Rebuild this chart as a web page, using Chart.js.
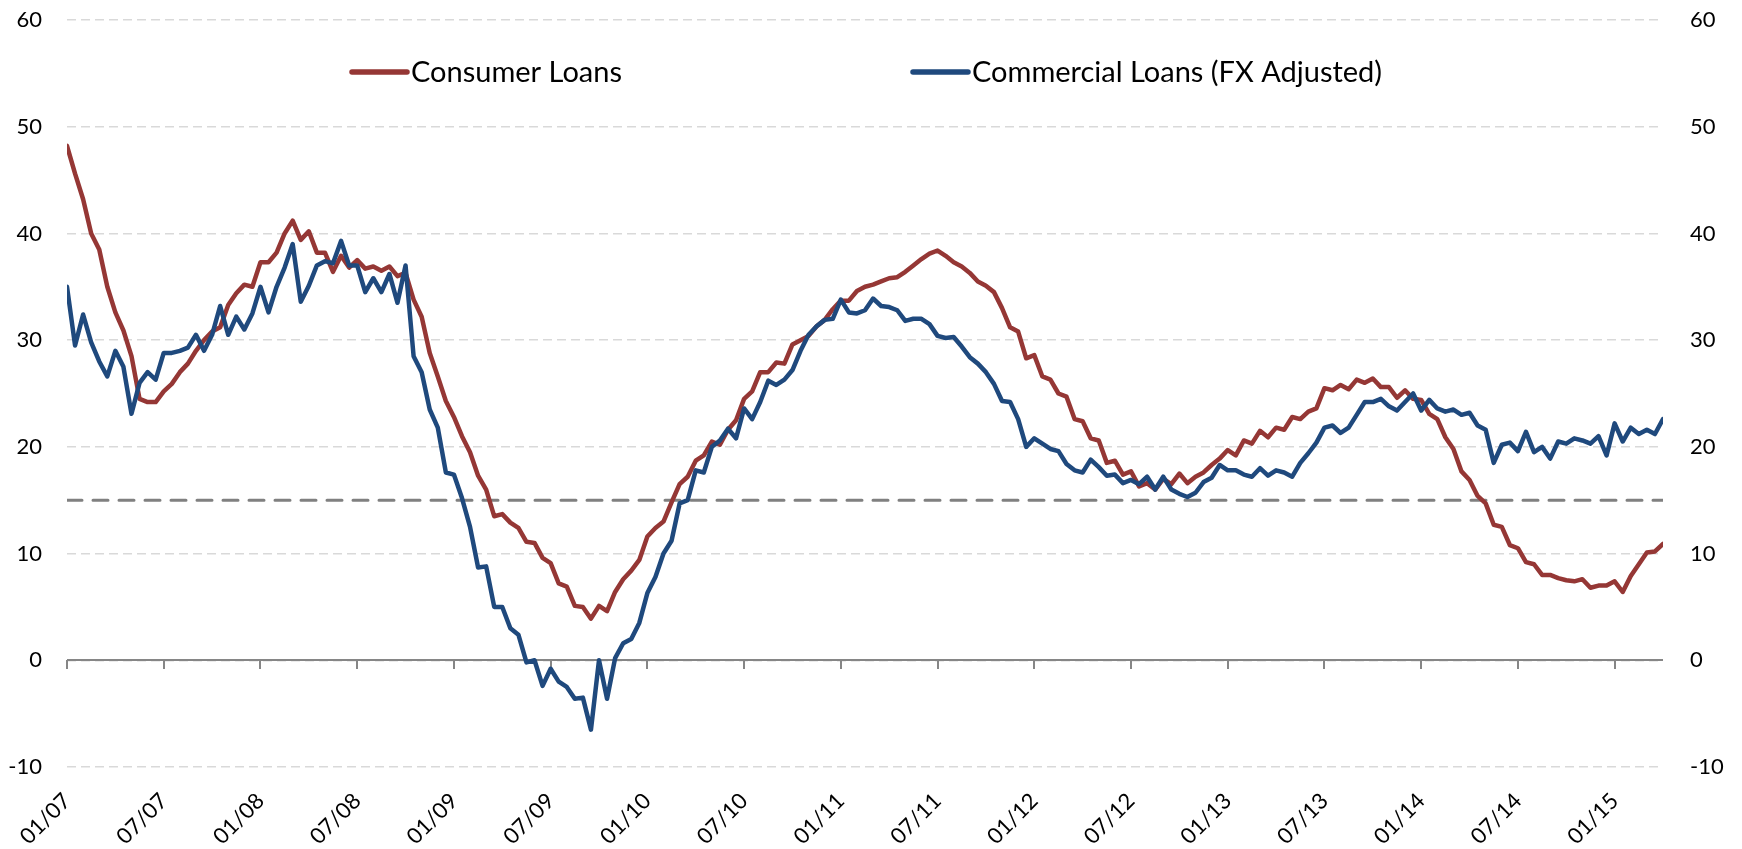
<!DOCTYPE html>
<html>
<head>
<meta charset="utf-8">
<title>Consumer vs Commercial Loans</title>
<script src="https://cdn.jsdelivr.net/npm/chart.js@4.4.1/dist/chart.umd.min.js"></script>
<style>
  html, body { margin: 0; padding: 0; background: #fff; }
  canvas { display: block; }
</style>
</head>
<body>
<canvas id="loansChart" width="1742" height="849"></canvas>
<script>
// one value every half month, first value is 01/07
const STEP = 0.5;
const tickLabels = ['01/07', '07/07', '01/08', '07/08', '01/09', '07/09', '01/10', '07/10', '01/11',
  '07/11', '01/12', '07/12', '01/13', '07/13', '01/14', '07/14', '01/15'];
const TICK_EVERY = 6; // months between labels

const consumerLoans = [
  48.2, 45.6, 43.2, 40.0, 38.5, 35.0, 32.6, 30.9, 28.5, 24.5,
  24.2, 24.2, 25.2, 25.9, 27.0, 27.8, 29.0, 30.0, 30.8, 31.2,
  33.3, 34.4, 35.2, 35.0, 37.3, 37.3, 38.2, 40.0, 41.2, 39.4,
  40.2, 38.2, 38.2, 36.4, 37.9, 36.8, 37.5, 36.7, 36.9, 36.5,
  36.9, 36.0, 36.3, 33.8, 32.2, 28.8, 26.6, 24.3, 22.8, 21.0,
  19.5, 17.3, 16.0, 13.5, 13.7, 12.9, 12.4, 11.1, 11.0, 9.6,
  9.1, 7.2, 6.9, 5.1, 5.0, 3.9, 5.1, 4.6, 6.4, 7.6,
  8.4, 9.4, 11.6, 12.4, 13.0, 14.8, 16.5, 17.2, 18.7, 19.2,
  20.5, 20.2, 21.6, 22.5, 24.5, 25.2, 27.0, 27.0, 27.9, 27.8,
  29.6, 30.0, 30.4, 31.3, 31.9, 32.9, 33.7, 33.7, 34.6, 35.0,
  35.2, 35.5, 35.8, 35.9, 36.4, 37.0, 37.6, 38.1, 38.4, 37.9,
  37.3, 36.9, 36.3, 35.5, 35.1, 34.5, 33.0, 31.2, 30.8, 28.3,
  28.6, 26.6, 26.3, 25.0, 24.7, 22.6, 22.4, 20.8, 20.6, 18.5,
  18.7, 17.4, 17.7, 16.3, 16.6, 16.0, 17.0, 16.5, 17.5, 16.6,
  17.2, 17.6, 18.3, 18.9, 19.7, 19.2, 20.6, 20.3, 21.5, 20.9,
  21.8, 21.6, 22.8, 22.6, 23.3, 23.6, 25.5, 25.3, 25.8, 25.4,
  26.3, 26.0, 26.4, 25.6, 25.6, 24.6, 25.3, 24.5, 24.4, 23.1,
  22.6, 20.9, 19.8, 17.7, 16.9, 15.4, 14.7, 12.7, 12.5, 10.8,
  10.5, 9.2, 9.0, 8.0, 8.0, 7.7, 7.5, 7.4, 7.6, 6.8,
  7.0, 7.0, 7.4, 6.4, 7.9, 9.0, 10.1, 10.2, 10.9
];

const commercialLoans = [
  35.0, 29.5, 32.4, 29.8, 28.0, 26.6, 29.0, 27.5, 23.1, 26.0,
  27.0, 26.3, 28.8, 28.8, 29.0, 29.3, 30.5, 29.0, 30.5, 33.2,
  30.5, 32.2, 31.0, 32.5, 35.0, 32.6, 35.0, 36.8, 39.0, 33.6,
  35.1, 37.0, 37.4, 37.2, 39.3, 37.0, 37.0, 34.5, 35.8, 34.5,
  36.2, 33.5, 37.0, 28.5, 27.0, 23.5, 21.8, 17.6, 17.4, 15.2,
  12.5, 8.7, 8.8, 5.0, 5.0, 3.0, 2.4, -0.2, 0.0, -2.4,
  -0.8, -2.0, -2.5, -3.6, -3.5, -6.5, 0.0, -3.6, 0.2, 1.6,
  2.0, 3.5, 6.3, 7.8, 10.0, 11.2, 14.7, 15.0, 17.8, 17.6,
  20.0, 20.6, 21.7, 20.8, 23.6, 22.6, 24.2, 26.2, 25.8, 26.3,
  27.2, 29.0, 30.5, 31.3, 31.9, 32.0, 33.8, 32.6, 32.5, 32.8,
  33.9, 33.2, 33.1, 32.8, 31.8, 32.0, 32.0, 31.5, 30.4, 30.2,
  30.3, 29.4, 28.4, 27.8, 27.0, 25.9, 24.3, 24.2, 22.6, 20.0,
  20.8, 20.3, 19.8, 19.6, 18.4, 17.8, 17.6, 18.8, 18.1, 17.3,
  17.4, 16.6, 16.9, 16.5, 17.2, 16.0, 17.2, 16.0, 15.6, 15.3,
  15.7, 16.7, 17.1, 18.3, 17.8, 17.8, 17.4, 17.2, 18.0, 17.3,
  17.8, 17.6, 17.2, 18.5, 19.4, 20.4, 21.8, 22.0, 21.3, 21.8,
  23.0, 24.2, 24.2, 24.5, 23.8, 23.4, 24.2, 25.0, 23.4, 24.4,
  23.6, 23.3, 23.5, 23.0, 23.2, 22.0, 21.6, 18.5, 20.2, 20.4,
  19.6, 21.4, 19.5, 20.0, 18.9, 20.5, 20.3, 20.8, 20.6, 20.3,
  21.0, 19.2, 22.2, 20.5, 21.8, 21.2, 21.6, 21.2, 22.6
];

const thresholdLevel = 15;
const yMin = -10, yMax = 60, yStep = 10;
const xMax = (consumerLoans.length - 1) * STEP;

const toPoints = arr => arr.map((v, i) => ({ x: i * STEP, y: v }));

Chart.defaults.font.family = "Lato, 'Open Sans', sans-serif";
Chart.defaults.color = '#000';

// solid zero line with small tick marks under each date label
const zeroAxis = {
  id: 'zeroAxis',
  beforeDatasetsDraw(chart, args, opts) {
    const { ctx, chartArea, scales: { x, y } } = chart;
    const y0 = Math.round(y.getPixelForValue(0));
    ctx.save();
    ctx.strokeStyle = opts.color;
    ctx.lineWidth = opts.width;
    ctx.beginPath();
    ctx.moveTo(chartArea.left, y0);
    ctx.lineTo(chartArea.right, y0);
    x.ticks.forEach(t => {
      const px = Math.round(x.getPixelForValue(t.value));
      ctx.moveTo(px, y0);
      ctx.lineTo(px, y0 + opts.tickLength);
    });
    ctx.stroke();
    ctx.restore();
  }
};

// legend drawn inside the plot, like the original
const inlineLegend = {
  id: 'inlineLegend',
  afterDraw(chart, args, opts) {
    const ctx = chart.ctx;
    ctx.save();
    ctx.font = opts.font;
    ctx.textBaseline = 'alphabetic';
    ctx.fillStyle = opts.color;
    opts.items.forEach(item => {
      const ds = chart.data.datasets[item.dataset];
      ctx.strokeStyle = ds.borderColor;
      ctx.lineWidth = 5.5;
      ctx.lineCap = 'round';
      ctx.beginPath();
      ctx.moveTo(item.x, opts.lineY);
      ctx.lineTo(item.x + opts.lineLength, opts.lineY);
      ctx.stroke();
      ctx.fillText(ds.label, item.x + opts.lineLength + opts.gap, opts.textY);
    });
    ctx.restore();
  }
};

// keep the plot box fixed: labels may hang outside it
const fixWidth = w => s => { s.width = w; s.paddingTop = 0; s.paddingBottom = 0; };

new Chart(document.getElementById('loansChart'), {
  type: 'line',
  data: {
    datasets: [
      {
        label: 'Consumer Loans',
        data: toPoints(consumerLoans),
        borderColor: '#953735',
        borderWidth: 4.5,
        order: 1
      },
      {
        label: 'Commercial Loans (FX Adjusted)',
        data: toPoints(commercialLoans),
        borderColor: '#1F497D',
        borderWidth: 4.5,
        order: 0
      },
      {
        label: 'threshold',
        data: [{ x: 0, y: thresholdLevel }, { x: xMax, y: thresholdLevel }],
        borderColor: '#808080',
        borderWidth: 3,
        borderDash: [15, 11],
        order: 2
      }
    ]
  },
  options: {
    responsive: false,
    animation: false,
    events: [],
    layout: { padding: { top: 20, left: 0, right: 0, bottom: 0 } },
    elements: {
      point: { radius: 0 },
      line: { tension: 0, borderJoinStyle: 'round', borderCapStyle: 'round', fill: false }
    },
    plugins: {
      legend: { display: false },
      tooltip: { enabled: false },
      zeroAxis: { color: '#868686', width: 2, tickLength: 9 },
      inlineLegend: {
        font: "29px Lato, 'Open Sans', sans-serif",
        color: '#000',
        lineY: 72,
        textY: 82,
        lineLength: 55,
        gap: 4,
        items: [{ dataset: 0, x: 352 }, { dataset: 1, x: 913 }]
      }
    },
    scales: {
      x: {
        type: 'linear',
        position: 'bottom',
        bounds: 'data',
        min: 0,
        max: xMax,
        afterBuildTicks: s => { s.ticks = tickLabels.map((_, i) => ({ value: i * TICK_EVERY })); },
        afterFit: s => { s.height = 82; s.paddingLeft = 0; s.paddingRight = 0; },
        grid: { display: false, drawTicks: false },
        border: { display: false },
        ticks: {
          autoSkip: false,
          minRotation: 45,
          maxRotation: 45,
          padding: 21,
          font: { size: 22 },
          callback: (v, i) => tickLabels[i]
        }
      },
      y: {
        position: 'left',
        min: yMin,
        max: yMax,
        afterFit: fixWidth(67),
        ticks: { stepSize: yStep, padding: 25, font: { size: 22 } },
        grid: { color: '#d9d9d9', lineWidth: 1.5, drawTicks: false },
        border: { display: false, dash: [9, 5] }
      },
      y2: {
        position: 'right',
        min: yMin,
        max: yMax,
        afterFit: fixWidth(79),
        ticks: { stepSize: yStep, padding: 27, font: { size: 22 } },
        grid: { drawOnChartArea: false, drawTicks: false },
        border: { display: false }
      }
    }
  },
  plugins: [zeroAxis, inlineLegend]
});
</script>
</body>
</html>
